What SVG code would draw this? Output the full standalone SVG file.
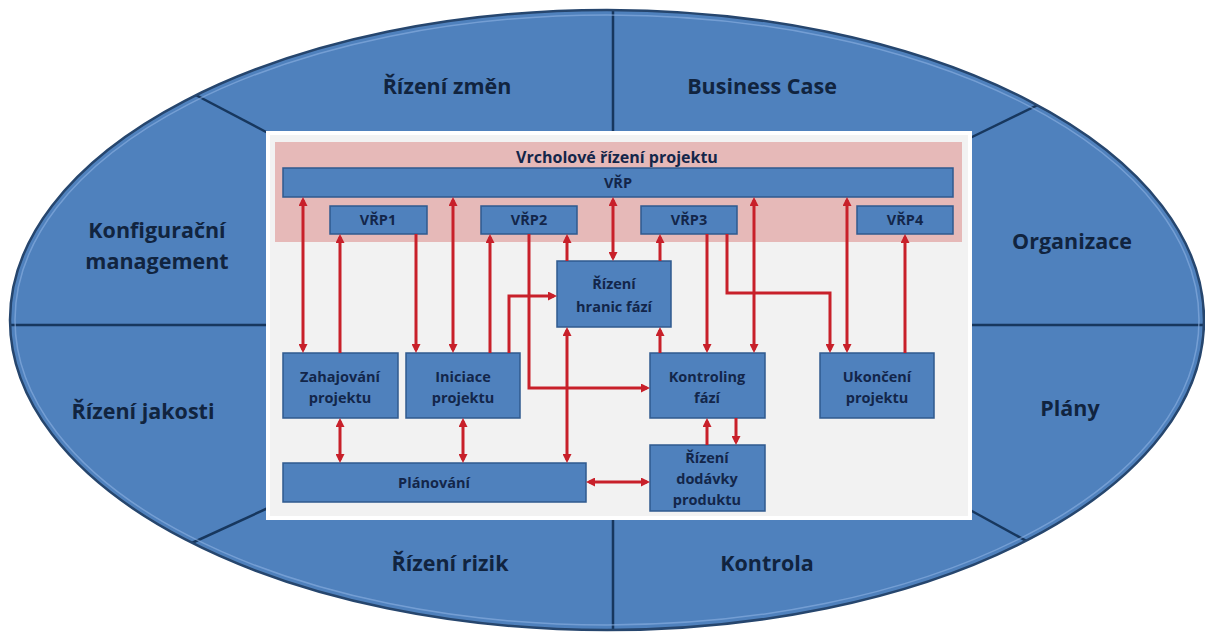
<svg xmlns="http://www.w3.org/2000/svg" width="1205" height="633" viewBox="0 0 1205 633">
  <style>
    .outer { font-family: "Open Sans", "Liberation Sans", sans-serif; font-weight: 700; font-size: 21.5px; fill: #11243f; text-anchor: middle; }
    .lbl { font-family: "Open Sans", "Liberation Sans", sans-serif; font-weight: 700; font-size: 14.5px; fill: #13264a; text-anchor: middle; }
    .box { fill: #4f81bd; stroke: #2f5a8e; stroke-width: 1.5; }
    .div { stroke: #17375e; stroke-width: 2.5; fill: none; }
    .cn path { fill: none; stroke: #c8202a; stroke-width: 3; }
  </style>
  <defs>
    <marker id="ah" viewBox="0 0 9 9" markerUnits="userSpaceOnUse" markerWidth="9" markerHeight="9" refX="6" refY="4.5" orient="auto-start-reverse">
      <path d="M0,0 L9,4.5 L0,9 z" fill="#c8202a"/>
    </marker>
    <clipPath id="ringClip">
      <ellipse cx="607" cy="320" rx="597" ry="310"/>
    </clipPath>
  </defs>

  <rect width="1205" height="633" fill="#ffffff"/>

  <!-- outer ring of knowledge areas -->
  <g id="ring">
    <ellipse cx="607" cy="320" rx="597" ry="310" fill="#4f81bd"/>
    <g clip-path="url(#ringClip)">
      <line class="div" x1="613" y1="5" x2="613" y2="133"/>
      <line class="div" x1="613" y1="518" x2="613" y2="636"/>
      <line class="div" x1="5" y1="325" x2="268" y2="325"/>
      <line class="div" x1="970" y1="325" x2="1210" y2="325"/>
      <line class="div" x1="190" y1="92" x2="268" y2="133"/>
      <line class="div" x1="1050" y1="99" x2="970" y2="138"/>
      <line class="div" x1="170" y1="553" x2="268" y2="508"/>
      <line class="div" x1="970" y1="510" x2="1050" y2="554"/>
    </g>
    <ellipse cx="607" cy="320" rx="592" ry="305" fill="none" stroke="#8db3e2" stroke-width="1.5" opacity="0.6"/>
    <ellipse cx="607" cy="320" rx="597" ry="310" fill="none" stroke="#26466e" stroke-width="2.5"/>
  </g>

  <g id="ring-labels">
    <text class="outer" x="447" y="94">Řízení změn</text>
    <text class="outer" x="762" y="94">Business Case</text>
    <text class="outer" x="157" y="238">Konfigurační</text>
    <text class="outer" x="157" y="269">management</text>
    <text class="outer" x="143" y="419">Řízení jakosti</text>
    <text class="outer" x="450" y="571">Řízení rizik</text>
    <text class="outer" x="767" y="571">Kontrola</text>
    <text class="outer" x="1072" y="249">Organizace</text>
    <text class="outer" x="1070" y="416">Plány</text>
  </g>

  <!-- central process panel -->
  <g id="panel">
    <rect x="268" y="133" width="702" height="385" fill="#f2f2f2" stroke="#ffffff" stroke-width="4"/>
    <rect x="275" y="142" width="687" height="100" fill="#e6b9b8"/>
    <text class="lbl" x="617" y="163" style="font-size:16px">Vrcholové řízení projektu</text>
  </g>

  <g id="vrp">
    <rect class="box" x="283" y="168" width="670" height="29"/>
    <text class="lbl" x="618" y="188">VŘP</text>
  </g>
  <g id="vrp1">
    <rect class="box" x="330" y="206" width="97" height="28"/>
    <text class="lbl" x="378" y="225">VŘP1</text>
  </g>
  <g id="vrp2">
    <rect class="box" x="481" y="206" width="96" height="28"/>
    <text class="lbl" x="529" y="225">VŘP2</text>
  </g>
  <g id="vrp3">
    <rect class="box" x="641" y="206" width="96" height="28"/>
    <text class="lbl" x="689" y="225">VŘP3</text>
  </g>
  <g id="vrp4">
    <rect class="box" x="857" y="206" width="96" height="28"/>
    <text class="lbl" x="905" y="225">VŘP4</text>
  </g>
  <g id="hranice">
    <rect class="box" x="557" y="261" width="114" height="66"/>
    <text class="lbl" x="614" y="289">Řízení</text>
    <text class="lbl" x="614" y="312">hranic fází</text>
  </g>
  <g id="zahajovani">
    <rect class="box" x="283" y="353" width="115" height="65"/>
    <text class="lbl" x="340" y="382">Zahajování</text>
    <text class="lbl" x="340" y="403">projektu</text>
  </g>
  <g id="iniciace">
    <rect class="box" x="406" y="353" width="114" height="65"/>
    <text class="lbl" x="463" y="382">Iniciace</text>
    <text class="lbl" x="463" y="403">projektu</text>
  </g>
  <g id="kontroling">
    <rect class="box" x="650" y="353" width="115" height="65"/>
    <text class="lbl" x="707" y="382">Kontroling</text>
    <text class="lbl" x="707" y="403">fází</text>
  </g>
  <g id="ukonceni">
    <rect class="box" x="820" y="353" width="114" height="65"/>
    <text class="lbl" x="877" y="382">Ukončení</text>
    <text class="lbl" x="877" y="403">projektu</text>
  </g>
  <g id="planovani">
    <rect class="box" x="283" y="463" width="303" height="39"/>
    <text class="lbl" x="434" y="488">Plánování</text>
  </g>
  <g id="dodavky">
    <rect class="box" x="650" y="445" width="115" height="66"/>
    <text class="lbl" x="707" y="463">Řízení</text>
    <text class="lbl" x="707" y="484">dodávky</text>
    <text class="lbl" x="707" y="505">produktu</text>
  </g>

  <!-- connectors -->
  <g id="connectors" class="cn">
    <path d="M303,200 V350" marker-start="url(#ah)" marker-end="url(#ah)"/>
    <path d="M340,353 V237" marker-end="url(#ah)"/>
    <path d="M416,234 V350" marker-end="url(#ah)"/>
    <path d="M453,200 V350" marker-start="url(#ah)" marker-end="url(#ah)"/>
    <path d="M490,353 V237" marker-end="url(#ah)"/>
    <path d="M509,353 V296 H554" marker-end="url(#ah)"/>
    <path d="M529,234 V388 H647" marker-end="url(#ah)"/>
    <path d="M567,261 V237" marker-end="url(#ah)"/>
    <path d="M567,330 V460" marker-start="url(#ah)" marker-end="url(#ah)"/>
    <path d="M613,200 V258" marker-start="url(#ah)" marker-end="url(#ah)"/>
    <path d="M660,261 V237" marker-end="url(#ah)"/>
    <path d="M660,353 V330" marker-end="url(#ah)"/>
    <path d="M707,234 V350" marker-end="url(#ah)"/>
    <path d="M727,234 V293 H830 V350" marker-end="url(#ah)"/>
    <path d="M754,200 V350" marker-start="url(#ah)" marker-end="url(#ah)"/>
    <path d="M847,200 V350" marker-start="url(#ah)" marker-end="url(#ah)"/>
    <path d="M905,353 V237" marker-end="url(#ah)"/>
    <path d="M340,421 V460" marker-start="url(#ah)" marker-end="url(#ah)"/>
    <path d="M463,421 V460" marker-start="url(#ah)" marker-end="url(#ah)"/>
    <path d="M589,482 H647" marker-start="url(#ah)" marker-end="url(#ah)"/>
    <path d="M707,445 V421" marker-end="url(#ah)"/>
    <path d="M736,418 V442" marker-end="url(#ah)"/>
  </g>
</svg>
